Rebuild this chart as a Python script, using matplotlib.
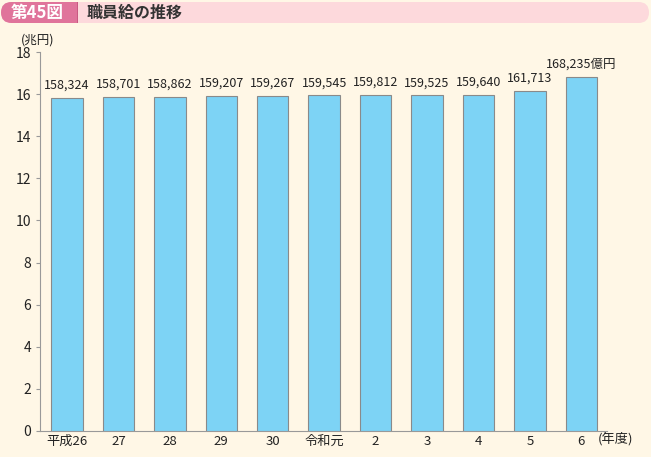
import matplotlib
matplotlib.use("Agg")
import matplotlib.pyplot as plt
from matplotlib.patches import FancyBboxPatch, Rectangle

plt.rcParams['font.family'] = ['Noto Sans CJK JP', 'DejaVu Sans']

categories = ["平成26", "27", "28", "29", "30", "令和元", "2", "3", "4", "5", "6"]
values_oku = [158324, 158701, 158862, 159207, 159267, 159545, 159812, 159525, 159640, 161713, 168235]
yticks = [0, 2, 4, 6, 8, 10, 12, 14, 16, 18]

W, H = 651, 457
fig = plt.figure(figsize=(W / 100, H / 100), dpi=100)
bg = "#FFF7E6"
fig.patch.set_facecolor(bg)

def fx(x): return x / W
def fy(y): return 1 - y / H

# header overlay in pixel coords
hx = fig.add_axes([0, 0, 1, 1])
hx.set_xlim(0, W)
hx.set_ylim(H, 0)
hx.axis("off")
hx.add_patch(FancyBboxPatch((1, 2), 648, 21, boxstyle="round,pad=0,rounding_size=10.5",
                            facecolor="#FDD9DC", edgecolor="none"))
hx.add_patch(FancyBboxPatch((1, 2), 77, 21, boxstyle="round,pad=0,rounding_size=10.5",
                            facecolor="#E0749B", edgecolor="none"))
hx.add_patch(Rectangle((50, 2), 28, 21, facecolor="#E0749B", edgecolor="none"))
hx.add_patch(Rectangle((77, 2), 1.2, 21, facecolor="#C85A82", edgecolor="none"))
hx.text(11, 13, "第45図", color="white", fontsize=12, fontweight="bold", va="center", ha="left")
hx.text(87, 13, "職員給の推移", color="#333333", fontsize=11.5, fontweight="bold",
        va="center", ha="left")
hx.text(21, 40, "(兆円)", fontsize=9, color="#222222", va="center", ha="left")
hx.text(598, 439, "(年度)", fontsize=9.5, color="#222222", va="center", ha="left")

ax = fig.add_axes([fx(40), fy(431), 567 / W, 379 / H])
ax.set_facecolor("none")
vals = [v / 10000 for v in values_oku]
x = list(range(len(categories)))
ax.bar(x, vals, width=0.61, color="#7DD3F5", edgecolor="#8A8A8A", linewidth=0.8, zorder=3)
for i, v in enumerate(values_oku):
    s = f"{v:,}"
    if i == len(values_oku) - 1:
        s += "億円"
    ax.text(i, vals[i] + 0.28, s, ha="center", va="bottom", fontsize=9, color="#222222")

ax.set_xlim(-0.525, len(categories) - 0.5)
ax.set_ylim(0, 18)
ax.set_yticks(yticks)
ax.set_xticks(x)
ax.set_xticklabels(categories, fontsize=9.5, color="#222222")
ax.tick_params(axis="y", labelsize=10, colors="#222222", length=3, color="#999999", width=0.8)
ax.tick_params(axis="x", length=0, pad=3)
for s in ["top", "right"]:
    ax.spines[s].set_visible(False)
for s in ["left", "bottom"]:
    ax.spines[s].set_color("#999999")
    ax.spines[s].set_linewidth(0.8)

fig.savefig("out.png", dpi=100, facecolor=bg)
